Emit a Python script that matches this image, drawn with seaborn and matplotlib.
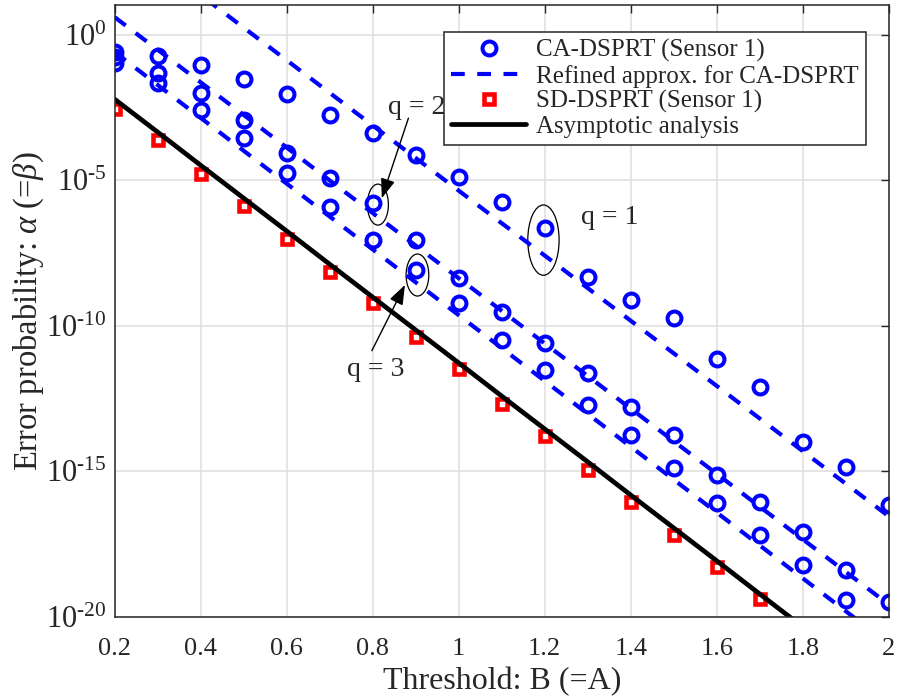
import numpy as np
import pandas as pd
import matplotlib
matplotlib.use('Agg')
import matplotlib.pyplot as plt
from matplotlib.patches import Ellipse
from matplotlib.transforms import ScaledTranslation
from matplotlib.ticker import NullLocator
import seaborn as sns

sns.set_style('whitegrid')
plt.rcParams['font.family'] = ['Liberation Serif', 'DejaVu Serif']
plt.rcParams['mathtext.fontset'] = 'custom'
plt.rcParams['mathtext.rm'] = 'Liberation Serif'
plt.rcParams['mathtext.it'] = 'Liberation Serif:italic'

# Threshold values (x axis)
thresholds = [0.2, 0.3, 0.4, 0.5, 0.6, 0.7, 0.8, 0.9, 1.0, 1.1,
              1.2, 1.3, 1.4, 1.5, 1.6, 1.7, 1.8, 1.9, 2.0]

# Error probabilities, stored as log10 values
ca_q1 = [-0.59, -0.75, -1.04, -1.53, -2.04, -2.76, -3.38, -4.15, -4.88, -5.74,
         -6.65, -8.32, -9.12, -9.74, -11.14, -12.10, -13.99, -14.87, -16.16]
ca_q2 = [-0.77, -1.33, -2.01, -2.93, -4.05, -4.93, -5.79, -7.05, -8.37, -9.52,
         -10.60, -11.64, -12.78, -13.76, -15.13, -16.05, -17.08, -18.40, -19.48]
ca_q3 = [-0.97, -1.67, -2.59, -3.56, -4.76, -5.91, -7.05, -8.09, -9.23, -10.49,
         -11.52, -12.72, -13.76, -14.90, -16.10, -17.19, -18.22, -19.43, -20.60]

approx_q1 = [3.60, 2.48, 1.36, 0.24, -0.88, -2.00, -3.12, -4.24, -5.36, -6.48,
             -7.59, -8.71, -9.83, -10.95, -12.07, -13.19, -14.31, -15.43, -16.55]
approx_q2 = [0.60, -0.52, -1.64, -2.76, -3.88, -5.01, -6.13, -7.25, -8.37, -9.49,
             -10.61, -11.73, -12.85, -13.97, -15.09, -16.22, -17.34, -18.46, -19.58]
approx_q3 = [-0.60, -1.73, -2.86, -3.99, -5.12, -6.25, -7.38, -8.51, -9.64, -10.77,
             -11.90, -13.03, -14.16, -15.29, -16.42, -17.55, -18.68, -19.81, -20.94]

sd_dsprt = [-2.55, -3.62, -4.78, -5.89, -7.03, -8.14, -9.23, -10.38, -11.50, -12.68,
            -13.79, -14.96, -16.05, -17.19, -18.30, -19.40]
asymptotic = [-2.22, -3.35, -4.49, -5.62, -6.75, -7.89, -9.02, -10.15, -11.28, -12.42,
              -13.55, -14.68, -15.82, -16.95, -18.08, -19.22, -20.35]

x_ticks = [0.2, 0.4, 0.6, 0.8, 1.0, 1.2, 1.4, 1.6, 1.8, 2.0]
x_tick_labels = ['0.2', '0.4', '0.6', '0.8', '1', '1.2', '1.4', '1.6', '1.8', '2']
y_tick_exps = [-20, -15, -10, -5, 0]


def to_df(exps):
    n = len(exps)
    return pd.DataFrame({'B': thresholds[:n], 'err': np.power(10.0, exps)})


fig = plt.figure(figsize=(8.99, 7.0), dpi=100)
ax = fig.add_axes([0.1276, 0.1190, 0.8610, 0.8739])

blue = '#0000ff'

# CA-DSPRT simulation (circles)
for i, exps in enumerate([ca_q1, ca_q2, ca_q3]):
    sns.lineplot(data=to_df(exps), x='B', y='err', ax=ax, estimator=None,
                 linestyle='none', marker='o', markersize=10, mew=2.9,
                 markerfacecolor='none', mec=blue, color=blue,
                 label='CA-DSPRT (Sensor 1)' if i == 0 else None, legend=False)

# Refined approximation (dashed)
for i, exps in enumerate([approx_q1, approx_q2, approx_q3]):
    sns.lineplot(data=to_df(exps), x='B', y='err', ax=ax, estimator=None,
                 color=blue, lw=3, dashes=False,
                 label='Refined approx. for CA-DSPRT' if i == 0 else None, legend=False)
for ln in ax.lines[3:6]:
    ln.set_dashes((3.3, 3.0))

# SD-DSPRT (squares)
sns.lineplot(data=to_df(sd_dsprt), x='B', y='err', ax=ax, estimator=None,
             linestyle='none', marker='s', markersize=7.8, mew=3.3,
             markerfacecolor='white', mec='#ff0000', color='#ff0000',
             label='SD-DSPRT (Sensor 1)', legend=False)

# Asymptotic analysis
sns.lineplot(data=to_df(asymptotic), x='B', y='err', ax=ax, estimator=None,
             color='black', lw=3.4, label='Asymptotic analysis', legend=False)

ax.set_yscale('log')
ax.set_xlim(0.2, 2.0)
ax.set_ylim(1e-20, 10 ** 1.02)
ax.set_xticks(x_ticks)
ax.set_xticklabels(x_tick_labels)
ax.set_yticks([10.0 ** e for e in y_tick_exps])
ax.set_yticklabels([r'$\mathdefault{10^{\text{-}%d}}$' % -e if e < 0 else r'$\mathdefault{10^{0}}$'
                    for e in y_tick_exps])
ax.yaxis.set_minor_locator(NullLocator())

ax.tick_params(axis='x', labelsize=19, pad=15)
ax.tick_params(axis='y', labelsize=22, pad=6)
ax.tick_params(direction='in', length=6, width=1.0, color='#262626',
               top=True, right=True, labelcolor='#262626')
for sp in ax.spines.values():
    sp.set_color('#262626')
    sp.set_linewidth(1.1)
ax.grid(True, color='#dedede', lw=1.1)
ax.set_axisbelow(True)

ax.set_xlabel('Threshold: B (=A)', fontsize=23, color='#262626', labelpad=5)
ax.set_ylabel(r'Error probability: $\alpha$ (=$\beta$)', fontsize=23.5,
              color='#262626', labelpad=0)

# Ellipses marking the highlighted points
def ring(x, y, w, h):
    tr = fig.dpi_scale_trans + ScaledTranslation(x, y, ax.transData)
    ax.add_patch(Ellipse((0, 0), w, h, transform=tr, fill=False, ec='black', lw=0.9))


ring(0.812, 10 ** -5.84, 0.21, 0.41)
ring(0.904, 10 ** -8.26, 0.227, 0.42)
ring(1.197, 10 ** -7.06, 0.313, 0.703)

arrow = dict(arrowstyle='-|>,head_length=0.6,head_width=0.22', color='black',
             lw=1.0, mutation_scale=20, shrinkA=0, shrinkB=0)
ax.annotate('', xy=(0.821, 10 ** -5.62), xytext=(0.883, 10 ** -2.87), arrowprops=arrow)
ax.annotate('', xy=(0.875, 10 ** -8.60), xytext=(0.798, 10 ** -10.86), arrowprops=arrow)
ax.text(0.903, 10 ** -2.50, 'q = 2', fontsize=20, ha='center', va='center')
ax.text(0.808, 10 ** -11.49, 'q = 3', fontsize=20, ha='center', va='center')
ax.text(1.352, 10 ** -6.30, 'q = 1', fontsize=20, ha='center', va='center')

handles, labels = ax.get_legend_handles_labels()
leg = ax.legend(handles, labels, loc='upper right', bbox_to_anchor=(0.9703, 0.9559),
                borderaxespad=0, fontsize=18, handlelength=3.0, handletextpad=0.4,
                borderpad=0.28, labelspacing=0.1, frameon=True, fancybox=False,
                framealpha=1, edgecolor='#262626')
leg.get_frame().set_linewidth(1.1)

fig.savefig('out.png', dpi=100)
